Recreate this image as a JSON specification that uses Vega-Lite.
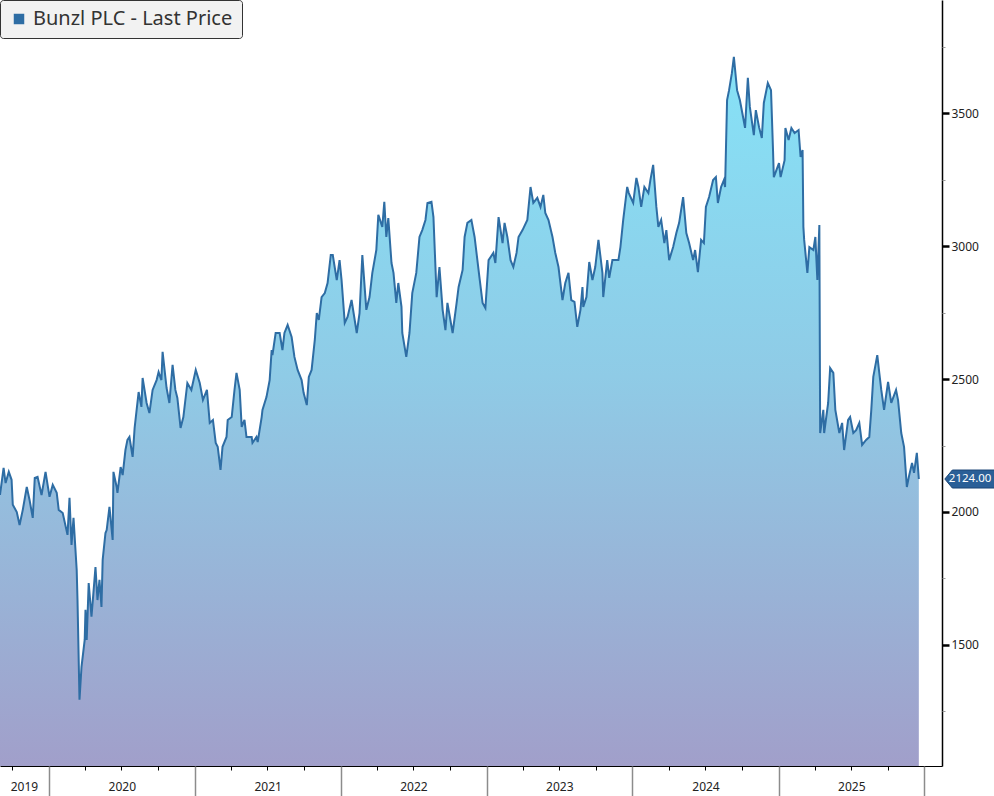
{
"$schema":"https://vega.github.io/schema/vega-lite/v6.json",
"width":942,"height":766,
"autosize":{"type":"none"},
"padding":{"left":0,"top":0,"right":52,"bottom":30},
"background":"#ffffff",
"config":{"view":{"stroke":null},"font":"Noto Sans"},
"datasets":{"price":[
{"date":"2019-09-01","value":2064},{"date":"2019-09-10","value":2166},{"date":"2019-09-15","value":2109},{"date":"2019-09-23","value":2151},{"date":"2019-09-30","value":2121},{"date":"2019-10-03","value":2027},{"date":"2019-10-13","value":2000},{"date":"2019-10-20","value":1951},{"date":"2019-10-28","value":2008},{"date":"2019-11-07","value":2094},{"date":"2019-11-14","value":2045},{"date":"2019-11-22","value":1978},{"date":"2019-11-27","value":2128},{"date":"2019-12-04","value":2132},{"date":"2019-12-14","value":2064},{"date":"2019-12-24","value":2151},
{"date":"2020-01-03","value":2057},{"date":"2020-01-11","value":2102},{"date":"2020-01-21","value":2072},{"date":"2020-01-26","value":2008},{"date":"2020-02-05","value":1996},{"date":"2020-02-17","value":1914},{"date":"2020-02-22","value":2053},{"date":"2020-02-27","value":1876},{"date":"2020-03-03","value":1978},{"date":"2020-03-11","value":1782},{"date":"2020-03-13","value":1669},{"date":"2020-03-18","value":1294},{"date":"2020-03-23","value":1418},{"date":"2020-03-31","value":1519},{"date":"2020-04-02","value":1632},{"date":"2020-04-05","value":1519},{"date":"2020-04-10","value":1733},{"date":"2020-04-17","value":1606},{"date":"2020-04-27","value":1793},{"date":"2020-05-02","value":1669},{"date":"2020-05-07","value":1745},{"date":"2020-05-12","value":1643},{"date":"2020-05-15","value":1820},{"date":"2020-05-22","value":1921},{"date":"2020-05-25","value":1932},{"date":"2020-06-01","value":2019},{"date":"2020-06-09","value":1895},{"date":"2020-06-11","value":2151},{"date":"2020-06-19","value":2094},{"date":"2020-06-21","value":2072},{"date":"2020-06-29","value":2169},{"date":"2020-07-04","value":2139},{"date":"2020-07-11","value":2233},{"date":"2020-07-16","value":2271},{"date":"2020-07-21","value":2282},{"date":"2020-07-29","value":2207},{"date":"2020-08-03","value":2316},{"date":"2020-08-08","value":2384},{"date":"2020-08-13","value":2451},{"date":"2020-08-20","value":2395},{"date":"2020-08-23","value":2504},{"date":"2020-09-02","value":2410},{"date":"2020-09-09","value":2372},{"date":"2020-09-17","value":2459},{"date":"2020-09-27","value":2496},{"date":"2020-10-02","value":2526},{"date":"2020-10-09","value":2496},{"date":"2020-10-12","value":2602},{"date":"2020-10-22","value":2466},{"date":"2020-10-29","value":2410},{"date":"2020-11-06","value":2553},{"date":"2020-11-13","value":2459},{"date":"2020-11-18","value":2429},{"date":"2020-11-26","value":2316},{"date":"2020-12-03","value":2357},{"date":"2020-12-13","value":2485},{"date":"2020-12-23","value":2459},
{"date":"2021-01-03","value":2534},{"date":"2021-01-13","value":2485},{"date":"2021-01-21","value":2421},{"date":"2021-01-31","value":2459},{"date":"2021-02-07","value":2335},{"date":"2021-02-15","value":2346},{"date":"2021-02-22","value":2260},{"date":"2021-02-27","value":2245},{"date":"2021-03-06","value":2158},{"date":"2021-03-11","value":2245},{"date":"2021-03-21","value":2282},{"date":"2021-03-24","value":2346},{"date":"2021-04-03","value":2357},{"date":"2021-04-10","value":2459},{"date":"2021-04-15","value":2523},{"date":"2021-04-23","value":2459},{"date":"2021-04-28","value":2320},{"date":"2021-05-05","value":2346},{"date":"2021-05-10","value":2282},{"date":"2021-05-23","value":2282},{"date":"2021-05-25","value":2260},{"date":"2021-06-04","value":2282},{"date":"2021-06-07","value":2263},{"date":"2021-06-17","value":2357},{"date":"2021-06-19","value":2384},{"date":"2021-06-29","value":2432},{"date":"2021-07-07","value":2496},{"date":"2021-07-12","value":2609},{"date":"2021-07-14","value":2590},{"date":"2021-07-22","value":2673},{"date":"2021-08-01","value":2673},{"date":"2021-08-08","value":2609},{"date":"2021-08-13","value":2673},{"date":"2021-08-21","value":2703},{"date":"2021-08-31","value":2658},{"date":"2021-09-07","value":2583},{"date":"2021-09-15","value":2534},{"date":"2021-09-25","value":2496},{"date":"2021-09-30","value":2448},{"date":"2021-10-08","value":2402},{"date":"2021-10-13","value":2508},{"date":"2021-10-20","value":2534},{"date":"2021-10-28","value":2647},{"date":"2021-11-02","value":2748},{"date":"2021-11-07","value":2722},{"date":"2021-11-14","value":2808},{"date":"2021-11-22","value":2823},{"date":"2021-11-29","value":2861},{"date":"2021-12-07","value":2966},{"date":"2021-12-12","value":2966},{"date":"2021-12-22","value":2872},{"date":"2021-12-29","value":2947},
{"date":"2022-01-03","value":2872},{"date":"2022-01-11","value":2711},{"date":"2022-01-18","value":2733},{"date":"2022-01-28","value":2797},{"date":"2022-02-10","value":2673},{"date":"2022-02-17","value":2748},{"date":"2022-02-24","value":2966},{"date":"2022-03-06","value":2760},{"date":"2022-03-14","value":2808},{"date":"2022-03-21","value":2899},{"date":"2022-03-31","value":2985},{"date":"2022-04-05","value":3117},{"date":"2022-04-15","value":3072},{"date":"2022-04-20","value":3166},{"date":"2022-04-25","value":3034},{"date":"2022-04-30","value":3105},{"date":"2022-05-08","value":2936},{"date":"2022-05-13","value":2899},{"date":"2022-05-20","value":2786},{"date":"2022-05-25","value":2861},{"date":"2022-06-02","value":2771},{"date":"2022-06-04","value":2673},{"date":"2022-06-14","value":2583},{"date":"2022-06-22","value":2673},{"date":"2022-06-29","value":2823},{"date":"2022-07-09","value":2899},{"date":"2022-07-17","value":3034},{"date":"2022-07-24","value":3060},{"date":"2022-08-01","value":3098},{"date":"2022-08-06","value":3162},{"date":"2022-08-16","value":3166},{"date":"2022-08-21","value":3109},{"date":"2022-08-29","value":2808},{"date":"2022-09-05","value":2921},{"date":"2022-09-13","value":2760},{"date":"2022-09-20","value":2684},{"date":"2022-09-25","value":2786},{"date":"2022-10-08","value":2673},{"date":"2022-10-18","value":2786},{"date":"2022-10-23","value":2846},{"date":"2022-11-02","value":2910},{"date":"2022-11-07","value":3034},{"date":"2022-11-14","value":3087},{"date":"2022-11-24","value":3098},{"date":"2022-12-02","value":3034},{"date":"2022-12-14","value":2884},{"date":"2022-12-22","value":2786},{"date":"2022-12-29","value":2767},
{"date":"2023-01-06","value":2947},{"date":"2023-01-18","value":2974},{"date":"2023-01-23","value":2936},{"date":"2023-01-31","value":3109},{"date":"2023-02-10","value":3011},{"date":"2023-02-15","value":3087},{"date":"2023-02-22","value":3034},{"date":"2023-03-02","value":2947},{"date":"2023-03-09","value":2921},{"date":"2023-03-17","value":2974},{"date":"2023-03-22","value":3034},{"date":"2023-04-01","value":3060},{"date":"2023-04-13","value":3098},{"date":"2023-04-21","value":3222},{"date":"2023-04-28","value":3162},{"date":"2023-05-08","value":3181},{"date":"2023-05-16","value":3147},{"date":"2023-05-23","value":3192},{"date":"2023-05-28","value":3124},{"date":"2023-06-05","value":3098},{"date":"2023-06-15","value":3034},{"date":"2023-06-22","value":2974},{"date":"2023-06-30","value":2921},{"date":"2023-07-10","value":2797},{"date":"2023-07-17","value":2861},{"date":"2023-07-25","value":2899},{"date":"2023-08-01","value":2797},{"date":"2023-08-09","value":2790},{"date":"2023-08-16","value":2696},{"date":"2023-08-24","value":2760},{"date":"2023-08-29","value":2846},{"date":"2023-08-31","value":2771},{"date":"2023-09-08","value":2808},{"date":"2023-09-15","value":2940},{"date":"2023-09-23","value":2872},{"date":"2023-09-30","value":2921},{"date":"2023-10-08","value":3023},{"date":"2023-10-18","value":2899},{"date":"2023-10-20","value":2808},{"date":"2023-10-30","value":2947},{"date":"2023-11-04","value":2880},{"date":"2023-11-12","value":2947},{"date":"2023-11-19","value":2947},{"date":"2023-11-27","value":2947},{"date":"2023-12-02","value":2996},{"date":"2023-12-09","value":3098},{"date":"2023-12-19","value":3222},{"date":"2023-12-23","value":3199},
{"date":"2024-01-03","value":3162},{"date":"2024-01-11","value":3256},{"date":"2024-01-16","value":3222},{"date":"2024-01-23","value":3147},{"date":"2024-01-31","value":3222},{"date":"2024-02-10","value":3199},{"date":"2024-02-15","value":3248},{"date":"2024-02-22","value":3305},{"date":"2024-03-01","value":3147},{"date":"2024-03-06","value":3072},{"date":"2024-03-13","value":3098},{"date":"2024-03-21","value":3011},{"date":"2024-03-26","value":3060},{"date":"2024-04-02","value":2947},{"date":"2024-04-12","value":2996},{"date":"2024-04-20","value":3049},{"date":"2024-04-27","value":3087},{"date":"2024-05-07","value":3184},{"date":"2024-05-15","value":3049},{"date":"2024-05-22","value":3011},{"date":"2024-06-01","value":2947},{"date":"2024-06-06","value":2985},{"date":"2024-06-13","value":2902},{"date":"2024-06-21","value":3023},{"date":"2024-06-28","value":3011},{"date":"2024-07-03","value":3147},{"date":"2024-07-11","value":3184},{"date":"2024-07-21","value":3248},{"date":"2024-07-28","value":3259},{"date":"2024-08-02","value":3162},{"date":"2024-08-10","value":3222},{"date":"2024-08-17","value":3248},{"date":"2024-08-20","value":3222},{"date":"2024-08-25","value":3549},{"date":"2024-08-30","value":3586},{"date":"2024-09-06","value":3650},{"date":"2024-09-11","value":3711},{"date":"2024-09-19","value":3586},{"date":"2024-09-26","value":3549},{"date":"2024-10-04","value":3485},{"date":"2024-10-09","value":3444},{"date":"2024-10-16","value":3632},{"date":"2024-10-21","value":3523},{"date":"2024-10-31","value":3417},{"date":"2024-11-05","value":3511},{"date":"2024-11-13","value":3447},{"date":"2024-11-20","value":3406},{"date":"2024-11-25","value":3538},{"date":"2024-12-05","value":3613},{"date":"2024-12-13","value":3586},{"date":"2024-12-18","value":3361},{"date":"2024-12-20","value":3259},
{"date":"2025-01-02","value":3312},{"date":"2025-01-06","value":3259},{"date":"2025-01-16","value":3323},{"date":"2025-01-18","value":3444},{"date":"2025-01-26","value":3399},{"date":"2025-02-02","value":3444},{"date":"2025-02-10","value":3425},{"date":"2025-02-20","value":3436},{"date":"2025-02-25","value":3335},{"date":"2025-03-02","value":3361},{"date":"2025-03-04","value":3072},{"date":"2025-03-06","value":3023},{"date":"2025-03-14","value":2899},{"date":"2025-03-19","value":2996},{"date":"2025-03-29","value":2985},{"date":"2025-04-03","value":3034},{"date":"2025-04-08","value":2872},{"date":"2025-04-13","value":3079},{"date":"2025-04-15","value":2297},{"date":"2025-04-23","value":2384},{"date":"2025-04-25","value":2297},{"date":"2025-05-05","value":2410},{"date":"2025-05-10","value":2541},{"date":"2025-05-18","value":2523},{"date":"2025-05-23","value":2384},{"date":"2025-06-02","value":2297},{"date":"2025-06-09","value":2335},{"date":"2025-06-14","value":2233},{"date":"2025-06-24","value":2346},{"date":"2025-06-29","value":2357},{"date":"2025-07-07","value":2297},{"date":"2025-07-14","value":2308},{"date":"2025-07-22","value":2335},{"date":"2025-07-29","value":2252},{"date":"2025-08-08","value":2271},{"date":"2025-08-16","value":2282},{"date":"2025-08-21","value":2384},{"date":"2025-08-26","value":2508},{"date":"2025-09-05","value":2590},{"date":"2025-09-10","value":2523},{"date":"2025-09-15","value":2459},{"date":"2025-09-22","value":2384},{"date":"2025-10-02","value":2489},{"date":"2025-10-10","value":2410},{"date":"2025-10-22","value":2459},{"date":"2025-10-27","value":2421},{"date":"2025-11-04","value":2297},{"date":"2025-11-11","value":2245},{"date":"2025-11-18","value":2094},{"date":"2025-11-23","value":2132},{"date":"2025-12-01","value":2184},{"date":"2025-12-06","value":2147},{"date":"2025-12-13","value":2222},{"date":"2025-12-18","value":2124}
]},
"data":{"name":"price"},
"layer":[
{"mark":{"type":"area","clip":true,"color":{"gradient":"linear","x1":0,"y1":0,"x2":0,"y2":1,"stops":[{"offset":0,"color":"#86e2f7"},{"offset":0.45,"color":"#8fcbe6"},{"offset":1,"color":"#a19fca"}]}},
 "encoding":{
  "x":{"field":"date","type":"temporal","scale":{"type":"utc","domain":[{"year":2019,"month":9,"date":1,"utc":true},{"year":2026,"month":2,"date":14,"utc":true}]},
   "axis":{"orient":"bottom","title":null,"grid":false,"ticks":false,"domain":true,"domainColor":"#000000","domainWidth":1,"labelFontSize":12,"labelColor":"#222222","labelPadding":15,"labelFlush":false,"labelOverlap":false,"labelExpr":"utcFormat(datum.value,'%Y')",
    "values":[{"year":2019,"month":10,"date":31,"utc":true},{"year":2020,"month":7,"date":2,"utc":true},{"year":2021,"month":7,"date":2,"utc":true},{"year":2022,"month":7,"date":2,"utc":true},{"year":2023,"month":7,"date":2,"utc":true},{"year":2024,"month":7,"date":2,"utc":true},{"year":2025,"month":7,"date":2,"utc":true}]}},
  "y":{"field":"value","type":"quantitative","scale":{"domain":[1045,3925],"zero":false,"nice":false},
   "axis":{"orient":"right","title":null,"grid":false,"format":"d","values":[1500,2000,2500,3000,3500],"tickSize":7,"tickWidth":2.5,"tickColor":"#000000","labelPadding":2,"labelFontSize":12,"labelColor":"#222222","domain":true,"domainColor":"#000000","domainWidth":1.5}},
  "y2":{"datum":1045}
 }},
{"mark":{"type":"line","clip":true,"strokeWidth":2},
 "encoding":{
  "x":{"field":"date","type":"temporal","scale":{"type":"utc","domain":[{"year":2019,"month":9,"date":1,"utc":true},{"year":2026,"month":2,"date":14,"utc":true}]},
   "axis":{"orient":"bottom","title":null,"grid":false,"labels":false,"domain":false,"tickSize":30,"tickColor":"#8c8c8c","tickWidth":1.5,
    "values":[{"year":2020,"month":1,"date":1,"utc":true},{"year":2021,"month":1,"date":1,"utc":true},{"year":2022,"month":1,"date":1,"utc":true},{"year":2023,"month":1,"date":1,"utc":true},{"year":2024,"month":1,"date":1,"utc":true},{"year":2025,"month":1,"date":1,"utc":true},{"year":2026,"month":1,"date":1,"utc":true}]}},
  "y":{"field":"value","type":"quantitative","scale":{"domain":[1045,3925],"zero":false,"nice":false},
   "axis":{"orient":"right","title":null,"grid":false,"labels":false,"domain":false,"values":[1250,1750,2250,2750,3250,3750],"tickSize":3,"tickColor":"#999999","tickWidth":1}},
  "color":{"datum":"Bunzl PLC - Last Price","type":"nominal","scale":{"range":["#2e6da4"]},
   "legend":{"orient":"top-left","offset":0,"title":null,"symbolType":"square","symbolSize":110,"symbolFillColor":"#2e6da4","symbolStrokeColor":"#2e6da4","symbolStrokeWidth":0,"labelFontSize":20,"labelOffset":4,"labelLimit":0,"labelColor":"#333333","fillColor":"#f2f2f2","strokeColor":"#333333","padding":9,"cornerRadius":3,
    "encode":{"symbols":{"update":{"fill":{"value":"#2e6da4"},"stroke":{"value":"#2e6da4"}}}}}}
 }},
{"transform":[{"window":[{"op":"row_number","as":"rk"}],"sort":[{"field":"date","order":"descending"}]},{"filter":"datum.rk == 1"}],
 "mark":{"type":"point","filled":true,"clip":false,"shape":"M-1,0L-0.75,-0.3L1.2,-0.3L1.2,0.3L-0.75,0.3Z","size":3600,"color":"#2a5f97","stroke":"#1b4677","strokeWidth":1,"opacity":1,"xOffset":56},
 "encoding":{
  "x":{"field":"date","type":"temporal","scale":{"type":"utc","domain":[{"year":2019,"month":9,"date":1,"utc":true},{"year":2026,"month":2,"date":14,"utc":true}]},
   "axis":{"orient":"bottom","title":null,"grid":false,"labels":false,"domain":false,"tickSize":4,"tickColor":"#000000","tickWidth":1,
    "values":[{"year":2019,"month":10,"date":1,"utc":true},{"year":2020,"month":4,"date":1,"utc":true},{"year":2020,"month":7,"date":1,"utc":true},{"year":2020,"month":10,"date":1,"utc":true},{"year":2021,"month":4,"date":1,"utc":true},{"year":2021,"month":7,"date":1,"utc":true},{"year":2021,"month":10,"date":1,"utc":true},{"year":2022,"month":4,"date":1,"utc":true},{"year":2022,"month":7,"date":1,"utc":true},{"year":2022,"month":10,"date":1,"utc":true},{"year":2023,"month":4,"date":1,"utc":true},{"year":2023,"month":7,"date":1,"utc":true},{"year":2023,"month":10,"date":1,"utc":true},{"year":2024,"month":4,"date":1,"utc":true},{"year":2024,"month":7,"date":1,"utc":true},{"year":2024,"month":10,"date":1,"utc":true},{"year":2025,"month":4,"date":1,"utc":true},{"year":2025,"month":7,"date":1,"utc":true},{"year":2025,"month":10,"date":1,"utc":true}]}},
  "y":{"field":"value","type":"quantitative","scale":{"domain":[1045,3925],"zero":false,"nice":false},"axis":null}
 }},
{"transform":[{"window":[{"op":"row_number","as":"rk"}],"sort":[{"field":"date","order":"descending"}]},{"filter":"datum.rk == 1"}],
 "mark":{"type":"text","clip":false,"align":"left","baseline":"middle","dx":30,"color":"#ffffff","fontSize":11.5},
 "encoding":{
  "x":{"field":"date","type":"temporal","scale":{"type":"utc","domain":[{"year":2019,"month":9,"date":1,"utc":true},{"year":2026,"month":2,"date":14,"utc":true}]},"axis":null},
  "y":{"field":"value","type":"quantitative","scale":{"domain":[1045,3925],"zero":false,"nice":false},"axis":null},
  "text":{"field":"value","type":"quantitative","format":".2f"}
 }}
],
"resolve":{"axis":{"x":"independent","y":"independent"}}
}
